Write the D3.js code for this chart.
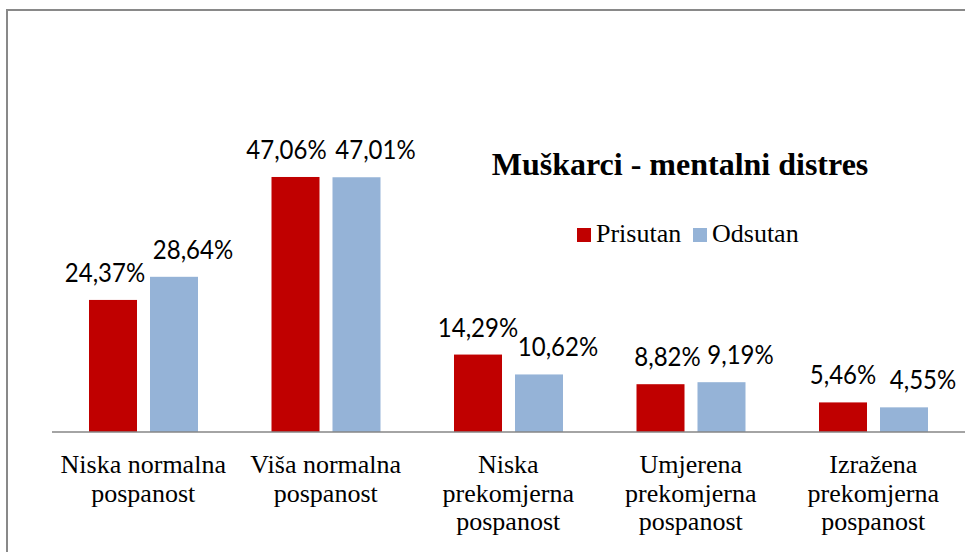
<!DOCTYPE html>
<html>
<head>
<meta charset="utf-8">
<script src="https://cdn.jsdelivr.net/npm/d3@7"></script>
<style>
  html, body { margin: 0; padding: 0; background: #fff; }
  svg { display: block; }
</style>
</head>
<body>
<svg id="chart" width="965" height="552"></svg>
<script>
// ---- data ----
const categories = [
  ["Niska normalna", "pospanost"],
  ["Viša normalna", "pospanost"],
  ["Niska", "prekomjerna", "pospanost"],
  ["Umjerena", "prekomjerna", "pospanost"],
  ["Izražena", "prekomjerna", "pospanost"]
];
const seriesNames = ["Prisutan", "Odsutan"];
const prisutan = [24.37, 47.06, 14.29, 8.82, 5.46];
const odsutan  = [28.64, 47.01, 10.62, 9.19, 4.55];
const titleText = "Muškarci - mentalni distres";

// ---- layout / style ----
const colors = ["#C00000", "#95B3D7"];
const W = 965, H = 552;
const baseY = 432;
const plotLeft = 52, plotRight = 964.5;
const labelNudgeRed = [-8, -9, 0, 7, 0];   // manual label placement in reference
const labelNudgeBlue = 19;

const svg = d3.select("#chart");

// frame
svg.append("rect")
  .attr("x", 7).attr("y", 10)
  .attr("width", W + 10).attr("height", H + 10)
  .attr("fill", "none").attr("stroke", "#898989").attr("stroke-width", 2);

const catIdx = d3.range(categories.length);
const x0 = d3.scaleBand().domain(catIdx).range([plotLeft, plotRight]).padding(0);
const x1 = d3.scaleBand().domain(seriesNames).range([37, 146]).paddingInner(0.213).paddingOuter(0);
const y = d3.scaleLinear().domain([0, 50]).range([baseY, baseY - 5.419 * 50]);

const rows = catIdx.map(i => ({ i, vals: [prisutan[i], odsutan[i]] }));

const g = svg.selectAll("g.cat").data(rows).enter().append("g")
  .attr("class", "cat")
  .attr("transform", d => `translate(${x0(d.i)},0)`);

g.selectAll("rect").data(d => d.vals.map((v, s) => ({ v, s, i: d.i }))).enter().append("rect")
  .attr("x", d => x1(seriesNames[d.s]))
  .attr("y", d => y(d.v))
  .attr("width", x1.bandwidth())
  .attr("height", d => baseY - y(d.v))
  .attr("fill", d => colors[d.s]);

g.selectAll("text.val").data(d => d.vals.map((v, s) => ({ v, s, i: d.i }))).enter().append("text")
  .attr("class", "val")
  .attr("transform", d => {
    const tx = x1(seriesNames[d.s]) + x1.bandwidth() / 2 + (d.s === 0 ? labelNudgeRed[d.i] : labelNudgeBlue);
    const ty = y(d.v) - 18;
    return `translate(${tx},${ty}) scale(1,1.15)`;
  })
  .attr("text-anchor", "middle")
  .attr("font-family", "Lato, 'Open Sans', sans-serif")
  .attr("font-size", 24)
  .attr("fill", "#000")
  .text(d => d.v.toFixed(2).replace(".", ",") + "%");

// axis
const xAxis = d3.axisBottom(x0).tickSize(0).tickFormat("");
const ax = svg.append("g").attr("transform", `translate(0,${baseY})`).call(xAxis);
ax.select(".domain").attr("stroke", "#868686").attr("stroke-width", 1.5)
  .attr("d", `M${plotLeft},0H${W + 5}`);

// category labels
const catText = svg.selectAll("text.cat").data(catIdx).enter().append("text")
  .attr("class", "cat")
  .attr("x", i => x0(i) + x0.bandwidth() / 2)
  .attr("y", 473)
  .attr("text-anchor", "middle")
  .attr("font-family", "'Liberation Serif', 'Times New Roman', serif")
  .attr("font-size", 26)
  .attr("fill", "#000");
catText.selectAll("tspan").data(i => categories[i].map(t => ({ t, i }))).enter().append("tspan")
  .attr("x", d => x0(d.i) + x0.bandwidth() / 2)
  .attr("dy", (d, k) => k === 0 ? 0 : 28.5)
  .text(d => d.t);

// title
svg.append("text")
  .attr("x", 680).attr("y", 175)
  .attr("text-anchor", "middle")
  .attr("font-family", "'Liberation Serif', 'Times New Roman', serif")
  .attr("font-weight", "bold")
  .attr("font-size", 32)
  .attr("fill", "#000")
  .text(titleText);

// legend
const legend = svg.append("g");
const legendItems = [{ x: 577, tx: 596 }, { x: 693, tx: 712 }];
seriesNames.forEach((name, s) => {
  legend.append("rect")
    .attr("x", legendItems[s].x).attr("y", 228)
    .attr("width", 14).attr("height", 14)
    .attr("fill", colors[s]);
  legend.append("text")
    .attr("x", legendItems[s].tx).attr("y", 242)
    .attr("font-family", "'Liberation Serif', 'Times New Roman', serif")
    .attr("font-size", 26)
    .attr("fill", "#000")
    .text(name);
});
</script>
</body>
</html>
